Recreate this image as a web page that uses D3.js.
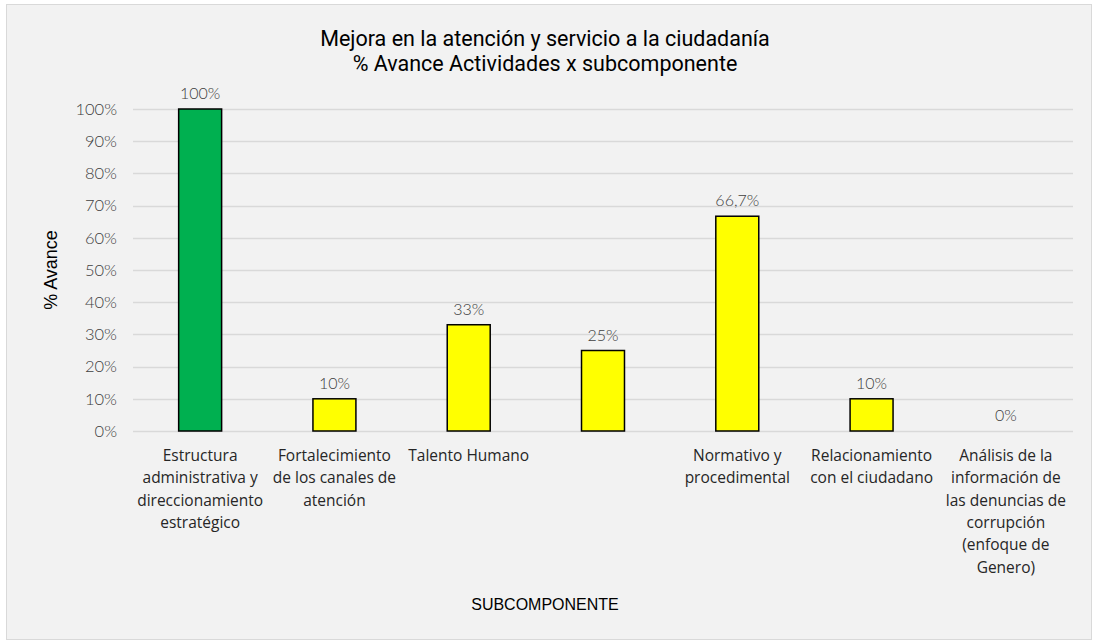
<!DOCTYPE html>
<html>
<head>
<meta charset="utf-8">
<script src="https://cdn.jsdelivr.net/npm/d3@7"></script>
<style>
  body { margin: 0; background: #fff; }
  svg { display: block; }
</style>
</head>
<body>
<svg width="1095" height="643"></svg>
<script>
// chart data
const categories = [
  ["Estructura", "administrativa y", "direccionamiento", "estratégico"],
  ["Fortalecimiento", "de los canales de", "atención"],
  ["Talento Humano"],
  [""],
  ["Normativo y", "procedimental"],
  ["Relacionamiento", "con el ciudadano"],
  ["Análisis de la", "información de", "las denuncias de", "corrupción", "(enfoque de", "Genero)"]
];
const values = [1, 0.10, 0.33, 0.25, 0.667, 0.10, 0];
const valueLabels = ["100%", "10%", "33%", "25%", "66,7%", "10%", "0%"];
const barColors = ["#00b050", "#ffff00", "#ffff00", "#ffff00", "#ffff00", "#ffff00", "#ffff00"];
const yTicks = [0, 0.1, 0.2, 0.3, 0.4, 0.5, 0.6, 0.7, 0.8, 0.9, 1];

const svg = d3.select("svg");
const width = +svg.attr("width");
const height = +svg.attr("height");

// chart area background + border
svg.append("rect")
  .attr("x", 6.5).attr("y", 4.5)
  .attr("width", width - 10).attr("height", height - 8)
  .attr("fill", "#f2f2f2")
  .attr("stroke", "#d9d9d9");

const plot = {left: 133, right: 1073, top: 109, bottom: 431};

const x = d3.scaleBand()
  .domain(d3.range(categories.length))
  .range([plot.left, plot.right])
  .paddingInner(0.68)
  .paddingOuter(0.34);

const y = d3.scaleLinear()
  .domain([0, 1])
  .range([plot.bottom, plot.top]);

// gridlines
svg.append("g")
  .selectAll("line")
  .data(yTicks)
  .join("line")
    .attr("x1", plot.left).attr("x2", plot.right)
    .attr("y1", d => Math.round(y(d)) + 0.5)
    .attr("y2", d => Math.round(y(d)) + 0.5)
    .attr("stroke", "#d9d9d9")
    .attr("stroke-width", 1.3);

// y axis labels
const yAxis = d3.axisLeft(y)
  .tickValues(yTicks)
  .tickFormat(d3.format(".0%"))
  .tickSize(0)
  .tickPadding(16);

svg.append("g")
  .attr("transform", `translate(${plot.left},0)`)
  .call(yAxis)
  .call(g => g.select(".domain").remove())
  .selectAll("text")
    .attr("fill", "#404040")
    .style("font-family", "Lato, 'Open Sans', sans-serif")
    .style("font-weight", 300)
    .style("font-size", "16.5px");

// bars
svg.append("g")
  .selectAll("rect")
  .data(values)
  .join("rect")
    .attr("x", (d, i) => x(i))
    .attr("y", d => y(d))
    .attr("width", x.bandwidth())
    .attr("height", d => y(0) - y(d))
    .attr("fill", (d, i) => barColors[i])
    .attr("stroke", d => d > 0 ? "#000" : "none")
    .attr("stroke-width", 1.5);

// value labels
svg.append("g")
  .selectAll("text")
  .data(values)
  .join("text")
    .attr("x", (d, i) => x(i) + x.bandwidth() / 2)
    .attr("y", d => y(d) - 10)
    .attr("text-anchor", "middle")
    .attr("fill", "#404040")
    .style("font-family", "Lato, 'Open Sans', sans-serif")
    .style("font-weight", 300)
    .style("font-size", "16px")
    .text((d, i) => valueLabels[i]);

// category labels
svg.append("g")
  .selectAll("text")
  .data(categories)
  .join("text")
    .attr("x", (d, i) => x(i) + x.bandwidth() / 2)
    .attr("y", 461)
    .attr("text-anchor", "middle")
    .attr("fill", "#262626")
    .style("font-family", "'Open Sans', 'Liberation Sans', sans-serif")
    .style("font-size", "15.5px")
  .selectAll("tspan")
  .data(d => d)
  .join("tspan")
    .attr("x", function() { return this.parentNode.getAttribute("x"); })
    .attr("dy", (d, i) => i === 0 ? 0 : 22.3)
    .text(d => d);

// title
svg.append("text")
  .attr("x", 545).attr("y", 46)
  .attr("text-anchor", "middle")
  .style("font-family", "Roboto, sans-serif")
  .style("font-size", "21.5px")
  .attr("fill", "#000")
  .selectAll("tspan")
  .data(["Mejora en la atención y servicio a la ciudadanía", "% Avance Actividades x subcomponente"])
  .join("tspan")
    .attr("x", 545)
    .attr("dy", (d, i) => i === 0 ? 0 : 25)
    .text(d => d);

// axis titles
svg.append("text")
  .attr("transform", "translate(57,270) rotate(-90)")
  .attr("text-anchor", "middle")
  .style("font-family", "'Liberation Sans', Arial, sans-serif")
  .style("font-size", "18px")
  .attr("fill", "#000")
  .text("% Avance");

svg.append("text")
  .attr("x", 545).attr("y", 610)
  .attr("text-anchor", "middle")
  .style("font-family", "'Liberation Sans', Arial, sans-serif")
  .style("font-size", "16px")
  .attr("fill", "#000")
  .text("SUBCOMPONENTE");
</script>
</body>
</html>
